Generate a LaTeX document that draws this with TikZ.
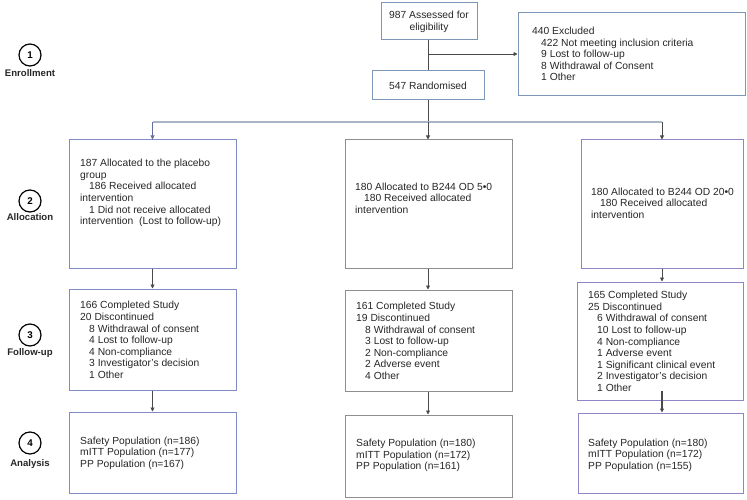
\documentclass[tikz,border=0pt]{standalone}
\usepackage{fontspec}
\setmainfont{Liberation Sans}
\usetikzlibrary{arrows.meta,calc}
\definecolor{topc}{HTML}{7D97B9}
\definecolor{leftc}{HTML}{7F8AC6}
\definecolor{midc}{HTML}{8E8E8E}
\definecolor{rightc}{HTML}{9183C6}
\definecolor{linec}{HTML}{4A4A4A}
\definecolor{branchc}{HTML}{A9B4C8}
\tikzset{
  box/.style={draw, line width=1pt, rectangle, inner sep=0pt},
  txt/.style={anchor=west, align=left, inner sep=0pt, font=\fontsize{10.3}{11.6}\selectfont, text=black!85},
  ctxt/.style={align=center, inner sep=0pt, font=\fontsize{10.3}{11.8}\selectfont, text=black!85},
  conn/.style={draw=linec, line width=0.9pt},
  arr/.style={conn, -{Triangle[length=4pt,width=4pt]}},
  stage/.style={draw=black, line width=1.2pt, circle, minimum size=22pt, inner sep=0pt, font=\fontsize{9.8}{11}\selectfont\bfseries},
  stagelbl/.style={inner sep=0pt, font=\fontsize{9.6}{11}\selectfont\bfseries, text=black!85}
}
\newcommand{\ind}{\hspace*{9pt}}
\begin{document}
\begin{tikzpicture}[x=1pt,y=-1pt]
\useasboundingbox (0,0) rectangle (747,500);
% stage labels
\node[stage] (s1) at (30,55) {1};
\node[stagelbl] (l1) at (30,73) {Enrollment};
\node[stage] (s2) at (30,201) {2};
\node[stagelbl] (l2) at (30,217) {Allocation};
\node[stage] (s3) at (30,335) {3};
\node[stagelbl] (l3) at (30,353) {Follow-up};
\node[stage] (s4) at (30,443) {4};
\node[stagelbl] (l4) at (30,464) {Analysis};
% top boxes
\node[box, draw=topc, minimum width=96pt, minimum height=37pt] (A) at (429,21.5) {};
\node[ctxt] (At) at (429,22) {987 Assessed for\\eligibility};
\node[box, draw=topc, minimum width=112pt, minimum height=29pt] (R) at (428,85.5) {};
\node[ctxt] (Rt) at (428,85.5) {547 Randomised};
\node[box, draw=topc, minimum width=227pt, minimum height=83pt] (E) at (631.5,54.5) {};
\node[txt] (Et) at (532,54) {440 Excluded\\\ind 422 Not meeting inclusion criteria\\\ind 9 Lost to follow-up\\\ind 8 Withdrawal of Consent\\\ind 1 Other};
% allocation
\node[box, draw=leftc, minimum width=167pt, minimum height=128pt] (L1) at (152.5,204) {};
\node[txt] (L1t) at (80,193) {187 Allocated to the placebo\\group\\\ind 186 Received allocated\\intervention\\\ind 1 Did not receive allocated\\intervention\ \ (Lost to follow-up)};
\node[box, draw=midc, minimum width=167pt, minimum height=128pt] (M1) at (428.5,204) {};
\node[txt] (M1t) at (355,198) {180 Allocated to B244 OD 5•0\\\ind 180 Received allocated\\intervention};
\node[box, draw=rightc, minimum width=162pt, minimum height=128pt] (R1) at (662,204) {};
\node[txt] (R1t) at (591,203) {180 Allocated to B244 OD 20•0\\\ind 180 Received allocated\\intervention};
% follow-up
\node[box, draw=leftc, minimum width=167pt, minimum height=101pt] (L2) at (152.5,339.5) {};
\node[txt] (L2t) at (80,340) {166 Completed Study\\20 Discontinued\\\ind 8 Withdrawal of consent\\\ind 4 Lost to follow-up\\\ind 4 Non-compliance\\\ind 3 Investigator's decision\\\ind 1 Other};
\node[box, draw=midc, minimum width=167pt, minimum height=101pt] (M2) at (428.5,340.5) {};
\node[txt] (M2t) at (356,341) {161 Completed Study\\19 Discontinued\\\ind 8 Withdrawal of consent\\\ind 3 Lost to follow-up\\\ind 2 Non-compliance\\\ind 2 Adverse event\\\ind 4 Other};
\node[box, draw=rightc, minimum width=166pt, minimum height=118pt] (R2) at (660,341) {};
\node[txt] (R2t) at (588,341.5) {165 Completed Study\\25 Discontinued\\\ind 6 Withdrawal of consent\\\ind 10 Lost to follow-up\\\ind 4 Non-compliance\\\ind 1 Adverse event\\\ind 1 Significant clinical event\\\ind 2 Investigator's decision\\\ind 1 Other};
% analysis
\node[box, draw=leftc, minimum width=167pt, minimum height=81pt] (L3) at (152.5,452.5) {};
\node[txt] (L3t) at (80,453) {Safety Population (n=186)\\mITT Population (n=177)\\PP Population (n=167)};
\node[box, draw=midc, minimum width=167pt, minimum height=82pt] (M3) at (428.5,456) {};
\node[txt] (M3t) at (356,455.5) {Safety Population (n=180)\\mITT Population (n=172)\\PP Population (n=161)};
\node[box, draw=rightc, minimum width=165pt, minimum height=80pt] (R3) at (660.5,453) {};
\node[txt] (R3t) at (588,455) {Safety Population (n=180)\\mITT Population (n=172)\\PP Population (n=155)};
% connectors
\coordinate (exc) at (428,54);
\coordinate (br) at (428,122);
\coordinate (brL) at (152.5,122);
\coordinate (brR) at (662,122);
\coordinate (r2in) at (662,391);
\draw[conn] (A.south -| exc) -- (R.north -| exc);
\draw[arr] (exc) -- (E.west |- exc);
\draw[conn] (R.south -| br) -- (br);
\draw[draw=branchc, line width=1.8pt] (brL) -- (brR);
\draw[arr, draw=leftc!80!black] (brL) -- (L1.north -| brL);
\draw[arr] (br) -- (M1.north -| br);
\draw[arr] (brR) -- (R1.north -| brR);
\draw[arr] (L1.south -| brL) -- (L2.north -| brL);
\draw[arr] (L2.south -| brL) -- (L3.north -| brL);
\draw[arr] (M1.south -| br) -- (M2.north -| br);
\draw[arr] (M2.south -| br) -- (M3.north -| br);
\draw[arr] (R1.south -| brR) -- (R2.north -| brR);
\draw[arr, line width=1.3pt] (r2in) -- (R3.north -| r2in);
\end{tikzpicture}
\end{document}
